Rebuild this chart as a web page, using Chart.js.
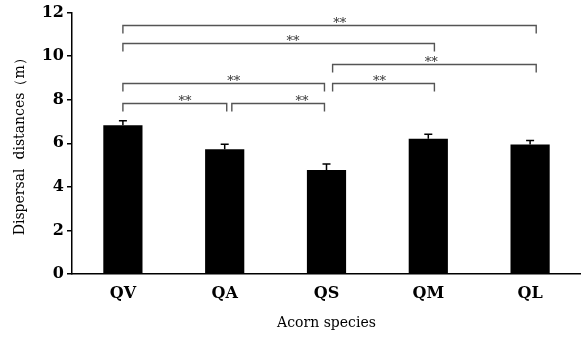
<!DOCTYPE html>
<html>
<head>
<meta charset="utf-8">
<script src="https://cdn.jsdelivr.net/npm/chart.js@4"></script>
<style>
  html, body { margin: 0; padding: 0; background: #fff; }
  #wrap { width: 581px; height: 338px; }
</style>
</head>
<body>
<div id="wrap"><canvas id="chart" width="581" height="338"></canvas></div>
<script>
// data
const species = ["QV", "QA", "QS", "QM", "QL"];
const meanDist = [6.83, 5.73, 4.78, 6.21, 5.95];
const seDist = [0.20, 0.23, 0.27, 0.20, 0.18];
const yTicks = [0, 2, 4, 6, 8, 10, 12];

// significance brackets (category positions, height in metres)
const brFrom = [0, 0, 2.06, 0, 2.06, 0, 1.07];
const brTo = [4.06, 3.06, 4.06, 1.98, 3.06, 1.02, 1.98];
const brLevel = [11.42, 10.61, 9.66, 8.75, 8.75, 7.86, 7.86];
const brStarAt = [2.13, 1.67, 3.03, 1.09, 2.52, 0.61, 1.76];
const brText = ["**", "**", "**", "**", "**", "**", "**"];

const serif = "'DejaVu Serif', 'Liberation Serif', serif";

const extrasPlugin = {
  id: "extras",
  afterDatasetsDraw(chart) {
    const ctx = chart.ctx;
    const x = chart.scales.x;
    const y = chart.scales.y;
    const step = x.getPixelForValue(1) - x.getPixelForValue(0);
    const catX = (v) => x.getPixelForValue(0) + v * step;

    // error bars (upper half only)
    ctx.save();
    ctx.strokeStyle = "#000";
    ctx.lineWidth = 1.5;
    meanDist.forEach((m, i) => {
      const cx = x.getPixelForValue(i);
      const yTop = y.getPixelForValue(m + seDist[i]);
      const yBar = y.getPixelForValue(m);
      ctx.beginPath();
      ctx.moveTo(cx, yBar);
      ctx.lineTo(cx, yTop);
      ctx.moveTo(cx - 4, yTop);
      ctx.lineTo(cx + 4, yTop);
      ctx.stroke();
    });
    ctx.restore();

    // brackets
    ctx.save();
    ctx.strokeStyle = "#555";
    ctx.lineWidth = 1.4;
    ctx.fillStyle = "#333";
    ctx.font = "13px " + serif;
    ctx.textAlign = "center";
    ctx.textBaseline = "alphabetic";
    brLevel.forEach((lv, i) => {
      const yy = Math.round(y.getPixelForValue(lv)) + 0.5;
      const x1 = catX(brFrom[i]);
      const x2 = catX(brTo[i]);
      ctx.beginPath();
      ctx.moveTo(x1, yy + 8);
      ctx.lineTo(x1, yy);
      ctx.lineTo(x2, yy);
      ctx.lineTo(x2, yy + 8);
      ctx.stroke();
      ctx.fillText(brText[i], catX(brStarAt[i]), yy + 1);
    });
    ctx.restore();
  }
};

new Chart(document.getElementById("chart"), {
  type: "bar",
  data: {
    labels: species,
    datasets: [{
      data: meanDist,
      backgroundColor: "#000",
      borderWidth: 0,
      barPercentage: 0.385,
      categoryPercentage: 1.0
    }]
  },
  options: {
    responsive: false,
    animation: false,
    layout: { padding: { top: 12, right: 0, left: 0, bottom: 0 } },
    plugins: {
      legend: { display: false },
      tooltip: { enabled: false }
    },
    scales: {
      x: {
        grid: { drawOnChartArea: false, drawTicks: false },
        border: { color: "#000", width: 1.5 },
        ticks: {
          color: "#000",
          padding: 10,
          font: { family: serif, size: 16, weight: "bold" }
        },
        title: {
          display: true,
          text: "Acorn species",
          color: "#000",
          padding: { top: 0, bottom: 6 },
          font: { family: serif, size: 14 }
        },
        afterFit: (s) => { s.height = 64; }
      },
      y: {
        min: 0,
        max: 12,
        afterBuildTicks: (s) => { s.ticks = yTicks.map((v) => ({ value: v })); },
        grid: { drawOnChartArea: false, drawTicks: true, tickLength: 5, color: "#000", lineWidth: 1.5 },
        border: { color: "#000", width: 1.5 },
        ticks: {
          color: "#000",
          padding: 3,
          font: { family: serif, size: 16, weight: "bold" }
        },
        title: {
          display: true,
          text: "Dispersal  distances（m）",
          color: "#000",
          padding: { top: 12, bottom: 2 },
          font: { family: serif, size: 14 }
        },
        afterFit: (s) => { s.width = 72; }
      }
    }
  },
  plugins: [extrasPlugin]
});
</script>
</body>
</html>
